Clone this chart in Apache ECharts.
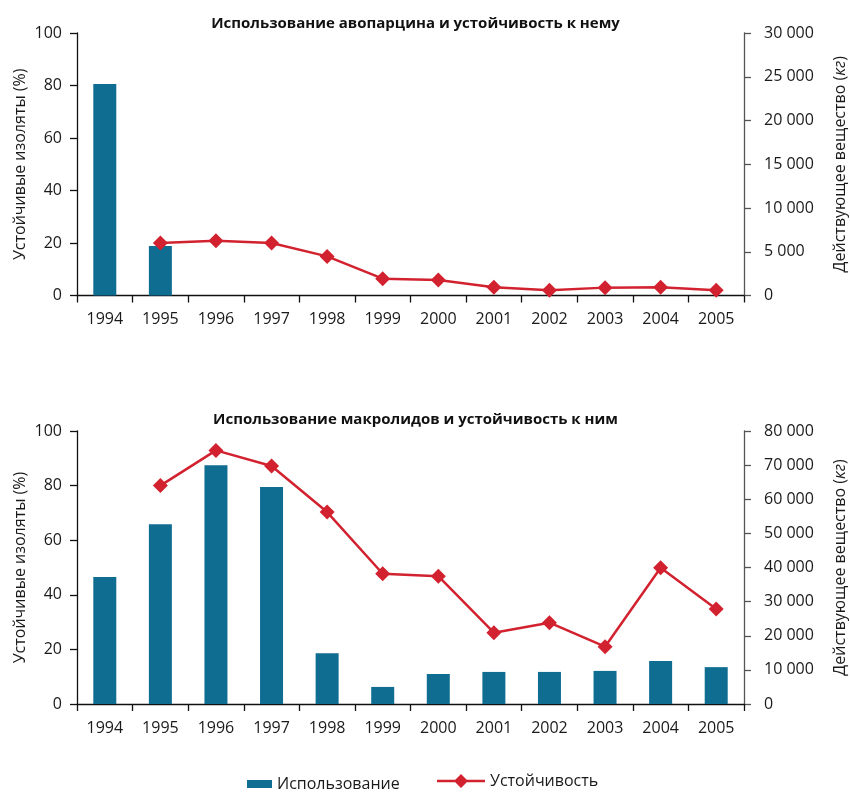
<!DOCTYPE html>
<html>
<head>
<meta charset="utf-8">
<script src="https://cdn.jsdelivr.net/npm/echarts@6/dist/echarts.min.js"></script>
<style>
  html, body { margin: 0; padding: 0; background: #fff; }
  #chart { width: 850px; height: 793px; }
</style>
</head>
<body>
<div id="chart"></div>
<script>
// Years shown on both panels
const years = ['1994','1995','1996','1997','1998','1999','2000','2001','2002','2003','2004','2005'];

// Avoparcin: usage (kg of active substance) and resistant isolates (%)
const avoparcinUsage = [24170, 5660, 0, 0, 0, 0, 0, 0, 0, 0, 0, 0];
const avoparcinResistance = [null, 20.0, 20.9, 20.0, 14.9, 6.4, 5.9, 3.1, 2.0, 3.0, 3.1, 2.0];

// Macrolides: usage (kg of active substance) and resistant isolates (%)
const macrolideUsage = [37200, 52700, 70000, 63600, 14900, 5000, 8800, 9400, 9400, 9700, 12600, 10800];
const macrolideResistance = [null, 80.0, 92.9, 87.2, 70.3, 47.7, 46.8, 26.1, 29.8, 21.0, 49.9, 34.8];

// Panel titles and axis ticks
const titles = ['Использование авопарцина и устойчивость к нему', 'Использование макролидов и устойчивость к ним'];
const percentTicks = { min: 0, max: 100, interval: 20 };
const kgTicksTop = { min: 0, max: 30000, interval: 5000 };
const kgTicksBottom = { min: 0, max: 80000, interval: 10000 };

const FONT = '"Open Sans", "Noto Sans", sans-serif';
const BAR = '#0f6d92';
const LINE = '#d2222f';
const USE = 'Использование';
const RES = 'Устойчивость';

const fmtKg = v => String(v).replace(/\B(?=(\d{3})+(?!\d))/g, '\u00a0');

const grids = [
  { left: 77, right: 106, top: 33, height: 262.5, outerBoundsMode: 'none', containLabel: false },
  { left: 77, right: 106, top: 431, height: 273, outerBoundsMode: 'none', containLabel: false }
];

function xAxis(i) {
  return {
    type: 'category', gridIndex: i, data: years, boundaryGap: true,
    axisLine: { lineStyle: { color: '#111', width: 1.3 } },
    axisTick: { show: true, length: 7, lineStyle: { color: '#111', width: 1.3 } },
    axisLabel: { color: '#1a1a1a', fontFamily: FONT, fontSize: 16, margin: 16 }
  };
}
function leftAxis(i) {
  return {
    type: 'value', gridIndex: i, position: 'left',
    min: percentTicks.min, max: percentTicks.max, interval: percentTicks.interval,
    name: 'Устойчивые изоляты (%)', nameLocation: 'middle', nameGap: 49, nameMoveOverlap: false,
    nameTextStyle: { color: '#1a1a1a', fontFamily: FONT, fontSize: 16 },
    axisLine: { show: true, lineStyle: { color: '#111', width: 1.3 } },
    axisTick: { show: true, length: 7, lineStyle: { color: '#111', width: 1.3 } },
    axisLabel: { color: '#1a1a1a', fontFamily: FONT, fontSize: 16, margin: 15 },
    splitLine: { show: false }
  };
}
function rightAxis(i, t) {
  return {
    type: 'value', gridIndex: i, position: 'right',
    min: t.min, max: t.max, interval: t.interval,
    name: 'Действующее вещество ({it|кг})', nameLocation: 'middle', nameGap: 88,
    nameTextStyle: {
      color: '#1a1a1a', fontFamily: FONT, fontSize: 16,
      rich: { it: { fontStyle: 'italic', fontFamily: FONT, fontSize: 16, color: '#1a1a1a' } }
    },
    axisLine: { show: true, lineStyle: { color: '#555', width: 1.3 } },
    axisTick: { show: true, length: 7, lineStyle: { color: '#555', width: 1.3 } },
    axisLabel: { color: '#1a1a1a', fontFamily: FONT, fontSize: 16, margin: 20, formatter: fmtKg },
    splitLine: { show: false }
  };
}

function bars(i, data) {
  return {
    name: USE, type: 'bar', xAxisIndex: i, yAxisIndex: i * 2 + 1,
    data: data, barWidth: 23, itemStyle: { color: BAR }, z: 2
  };
}
function line(i, data) {
  return {
    name: RES, type: 'line', xAxisIndex: i, yAxisIndex: i * 2,
    data: data, symbol: 'diamond', symbolSize: 15, connectNulls: false,
    lineStyle: { color: LINE, width: 2.5 }, itemStyle: { color: LINE }, z: 5
  };
}

// Legend glyph for the resistance line: a stroke with a diamond in the middle
const lineIcon = 'path://M0,5.8H48V8.2H0Z M24,0L31,7L24,14L17,7Z';

const chart = echarts.init(document.getElementById('chart'), null, { renderer: 'canvas' });
chart.setOption({
  animation: false,
  backgroundColor: '#fff',
  title: titles.map((t, i) => ({
    text: t, left: 410.5, textAlign: 'center', top: i === 0 ? 11 : 407,
    textStyle: { fontFamily: FONT, fontSize: 15, fontWeight: 'bold', color: '#111' }
  })),
  legend: [
    {
      data: [{ name: USE, icon: 'rect' }], left: 242, top: 771,
      itemWidth: 25, itemHeight: 8, itemGap: 10,
      textStyle: { fontFamily: FONT, fontSize: 16, color: '#1a1a1a' }
    },
    {
      data: [{ name: RES, icon: lineIcon }], left: 432, top: 768,
      itemWidth: 48, itemHeight: 14, itemGap: 10,
      itemStyle: { color: LINE }, lineStyle: { width: 0 },
      textStyle: { fontFamily: FONT, fontSize: 16, color: '#1a1a1a' }
    }
  ],
  grid: grids,
  xAxis: [xAxis(0), xAxis(1)],
  yAxis: [leftAxis(0), rightAxis(0, kgTicksTop), leftAxis(1), rightAxis(1, kgTicksBottom)],
  series: [
    bars(0, avoparcinUsage), line(0, avoparcinResistance),
    bars(1, macrolideUsage), line(1, macrolideResistance)
  ]
});
</script>
</body>
</html>
